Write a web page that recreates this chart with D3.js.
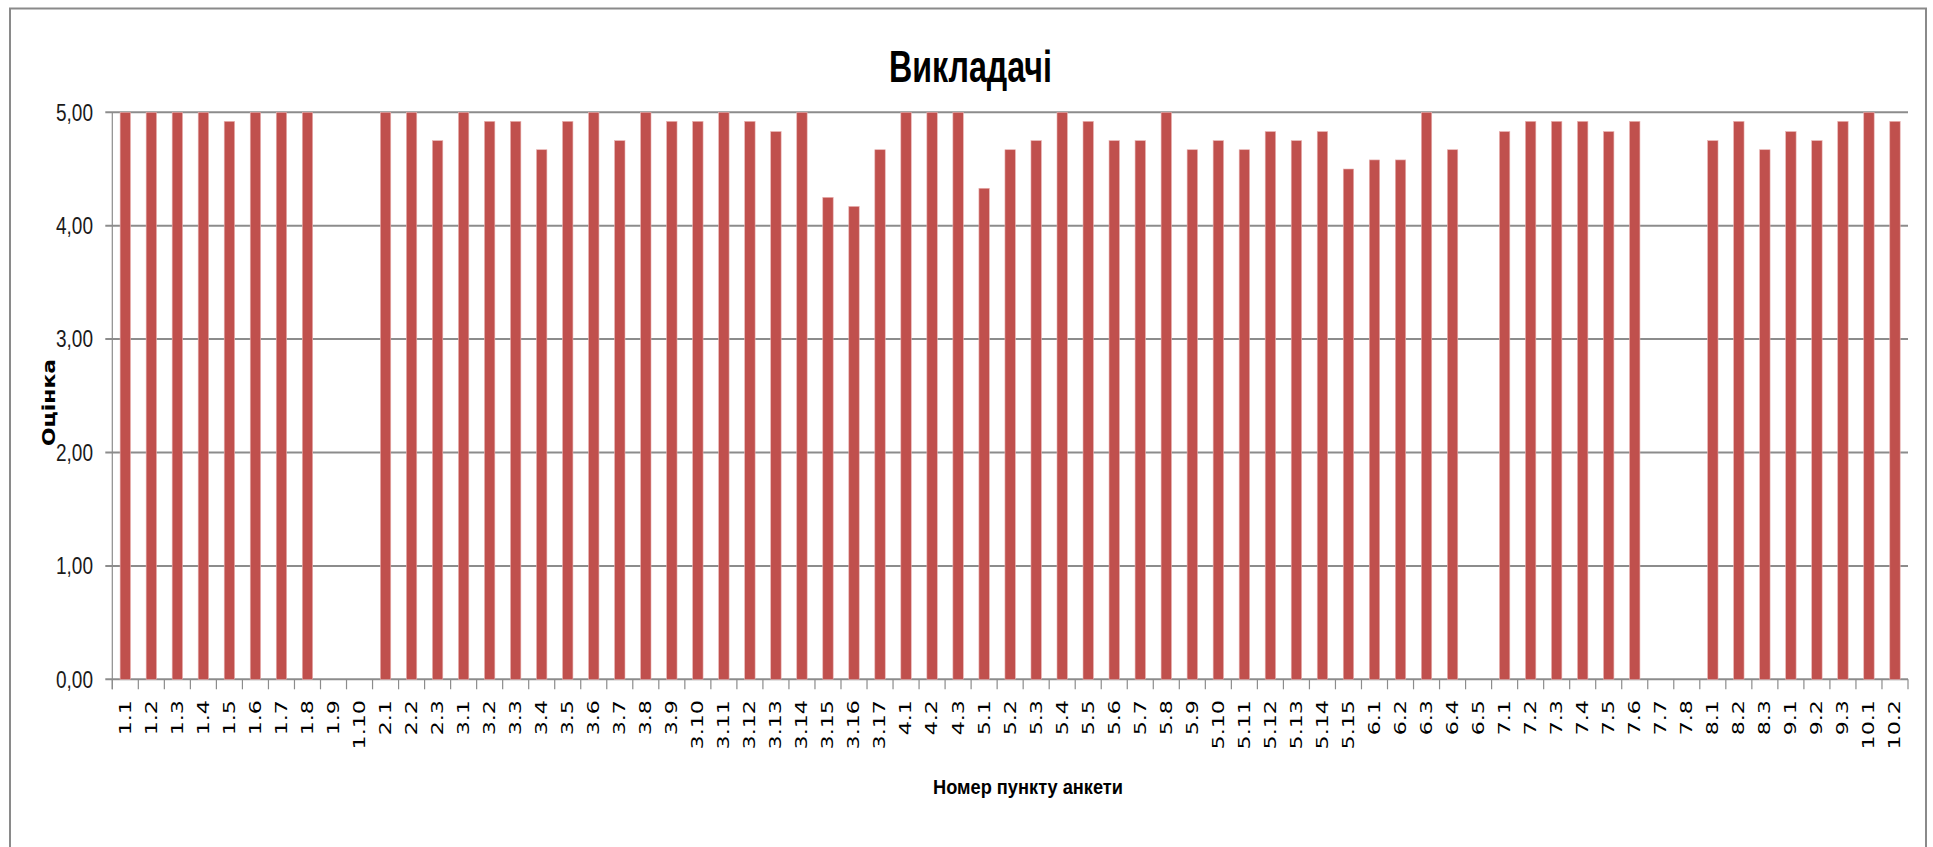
<!DOCTYPE html>
<html>
<head>
<meta charset="utf-8">
<script src="https://cdn.jsdelivr.net/npm/d3@7"></script>
<style>
  html, body { margin: 0; padding: 0; background: #ffffff; }
</style>
</head>
<body>
<script>

// categories (survey item numbers)
var categories = [
  "1.1","1.2","1.3","1.4","1.5","1.6","1.7","1.8","1.9","1.10",
  "2.1","2.2","2.3",
  "3.1","3.2","3.3","3.4","3.5","3.6","3.7","3.8","3.9","3.10","3.11","3.12","3.13","3.14","3.15","3.16","3.17",
  "4.1","4.2","4.3",
  "5.1","5.2","5.3","5.4","5.5","5.6","5.7","5.8","5.9","5.10","5.11","5.12","5.13","5.14","5.15",
  "6.1","6.2","6.3","6.4","6.5",
  "7.1","7.2","7.3","7.4","7.5","7.6","7.7","7.8",
  "8.1","8.2","8.3",
  "9.1","9.2","9.3",
  "10.1","10.2"
];

// mean scores, null = no bar
var scores = [
  5.00, 5.00, 5.00, 5.00, 4.92, 5.00, 5.00, 5.00, null, null,
  5.00, 5.00, 4.75,
  5.00, 4.92, 4.92, 4.67, 4.92, 5.00, 4.75, 5.00, 4.92, 4.92, 5.00, 4.92, 4.83, 5.00, 4.25, 4.17, 4.67,
  5.00, 5.00, 5.00,
  4.33, 4.67, 4.75, 5.00, 4.92, 4.75, 4.75, 5.00, 4.67, 4.75, 4.67, 4.83, 4.75, 4.83, 4.50,
  4.58, 4.58, 5.00, 4.67, null,
  4.83, 4.92, 4.92, 4.92, 4.83, 4.92, null, null,
  4.75, 4.92, 4.67,
  4.83, 4.75, 4.92,
  5.00, 4.92
];

var yTicks = [0, 1, 2, 3, 4, 5];

var titleText = "Викладачі";
var xTitleText = "Номер пункту анкети";
var yTitleText = "Оцінка";

//layout
var width = 1933;
var height = 847;
var plotLeft = 112.3;
var plotRight = 1908;
var plotTop = 112.3;
var plotBottom = 679.3;

var barColor = "#C0504D";
var gridColor = "#8c8c8c";

var data = categories.map(function(c, i) { return { cat: c, value: scores[i] }; });

//The SVG Container
var svg = d3.select("body").append("svg")
    .attr("width", width)
    .attr("height", height)
    .style("display", "block");

//outer chart border
svg.append("rect")
    .attr("x", 10)
    .attr("y", 8.5)
    .attr("width", 1916)
    .attr("height", 900)
    .attr("fill", "none")
    .attr("stroke", "#8a8a8a")
    .attr("stroke-width", 2);

var x = d3.scaleBand()
    .domain(categories)
    .range([plotLeft, plotRight])
    .paddingInner(0.6)
    .paddingOuter(0.3);

var y = d3.scaleLinear()
    .domain([0, 5])
    .range([plotBottom, plotTop]);

//gridlines (incl. short tick on the left)
svg.append("g").selectAll("line")
    .data(yTicks)
    .enter().append("line")
    .attr("x1", plotLeft - 7)
    .attr("x2", plotRight)
    .attr("y1", function(d) { return y(d); })
    .attr("y2", function(d) { return y(d); })
    .attr("stroke", gridColor)
    .attr("stroke-width", 2);

//y axis line
svg.append("line")
    .attr("x1", plotLeft)
    .attr("x2", plotLeft)
    .attr("y1", plotTop)
    .attr("y2", plotBottom + 10)
    .attr("stroke", gridColor)
    .attr("stroke-width", 1.2);

//x ticks between categories (excel style)
var step = x.step();
var boundaries = d3.range(categories.length + 1).map(function(i) { return plotLeft + i * step; });
svg.append("g").selectAll("line")
    .data(boundaries)
    .enter().append("line")
    .attr("x1", function(d) { return d; })
    .attr("x2", function(d) { return d; })
    .attr("y1", plotBottom)
    .attr("y2", plotBottom + 10)
    .attr("stroke", gridColor)
    .attr("stroke-width", 1.2);

//bars
svg.append("g").selectAll("rect")
    .data(data.filter(function(d) { return d.value != null; }))
    .enter().append("rect")
    .attr("x", function(d) { return x(d.cat); })
    .attr("y", function(d) { return y(d.value); })
    .attr("width", x.bandwidth())
    .attr("height", function(d) { return y(0) - y(d.value); })
    .attr("fill", barColor)
    .attr("stroke", "#e9b3b2")
    .attr("stroke-width", 0.6);

//x tick labels, rotated
var xAxis = svg.append("g")
    .attr("transform", "translate(0," + 700 + ")")
    .call(d3.axisBottom(x).tickSize(0).tickPadding(0));
xAxis.select(".domain").remove();
xAxis.selectAll("text")
    .attr("y", 0)
    .attr("dy", "0.36em")
    .attr("text-anchor", "end")
    .attr("font-family", "'DejaVu Sans', Verdana, sans-serif")
    .attr("font-size", 15)
    .attr("fill", "#000")
    .attr("transform", "rotate(-90) scale(1.48,1)");

//y tick labels
svg.append("g").selectAll("text")
    .data(yTicks)
    .enter().append("text")
    .attr("x", 93)
    .attr("y", function(d) { return y(d) + 8.3; })
    .attr("text-anchor", "end")
    .attr("font-family", "'Liberation Sans', Arial, sans-serif")
    .attr("font-size", 23)
    .attr("textLength", 37)
    .attr("lengthAdjust", "spacingAndGlyphs")
    .attr("fill", "#1a1a1a")
    .text(function(d) { return d.toFixed(2).replace(".", ","); });

//chart title
svg.append("text")
    .attr("x", 970.5)
    .attr("y", 82)
    .attr("text-anchor", "middle")
    .attr("font-family", "'Liberation Sans', Arial, sans-serif")
    .attr("font-weight", "bold")
    .attr("font-size", 44)
    .attr("textLength", 163)
    .attr("lengthAdjust", "spacingAndGlyphs")
    .text(titleText);

//x axis title
svg.append("text")
    .attr("x", 1028)
    .attr("y", 794)
    .attr("text-anchor", "middle")
    .attr("font-family", "'Liberation Sans', Arial, sans-serif")
    .attr("font-weight", "bold")
    .attr("font-size", 20)
    .attr("textLength", 190)
    .attr("lengthAdjust", "spacingAndGlyphs")
    .text(xTitleText);

//y axis title
svg.append("text")
    .attr("transform", "translate(55,402.5) rotate(-90)")
    .attr("text-anchor", "middle")
    .attr("font-family", "'DejaVu Sans', Verdana, sans-serif")
    .attr("font-weight", "bold")
    .attr("font-size", 17)
    .attr("textLength", 87)
    .attr("lengthAdjust", "spacingAndGlyphs")
    .text(yTitleText);

</script>
</body>
</html>
